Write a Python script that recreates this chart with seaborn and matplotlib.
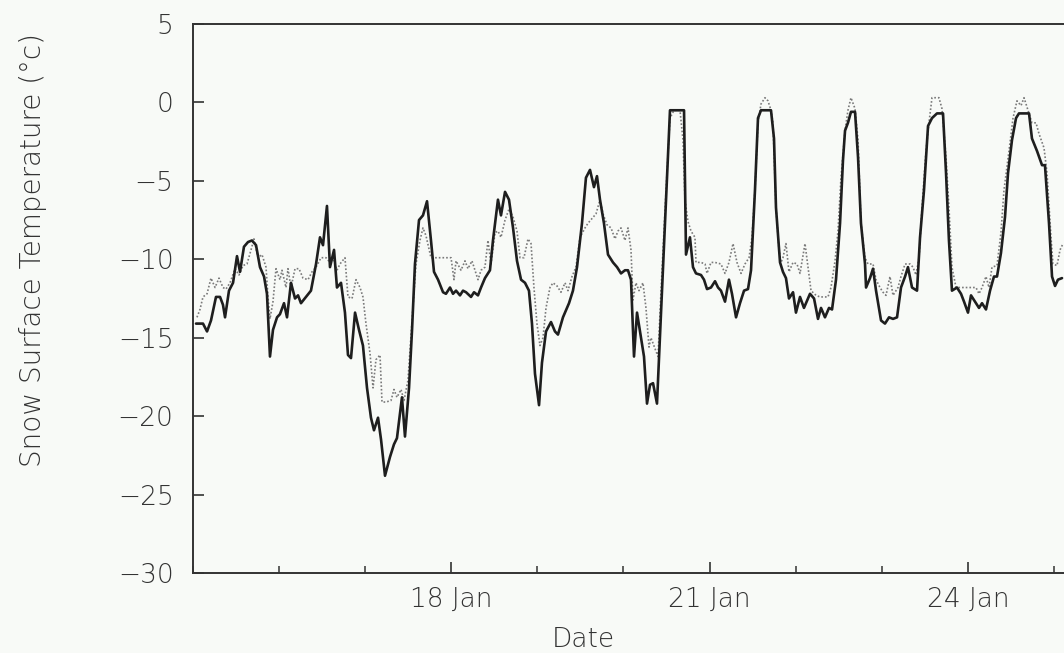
import numpy as np
import pandas as pd
import matplotlib
matplotlib.use("Agg")
import matplotlib.pyplot as plt
import matplotlib.dates as mdates
import seaborn as sns

# ---- data: time in days since 15 Jan 00:00, temperature in degC ----
solid_days = [0.035, 0.116, 0.163, 0.209, 0.267, 0.314, 0.348, 0.372, 0.418, 0.465,
              0.511, 0.546, 0.592, 0.639, 0.685, 0.732, 0.778, 0.825, 0.859, 0.894,
              0.929, 0.976, 1.010, 1.057, 1.092, 1.138, 1.185, 1.220, 1.254, 1.312,
              1.370, 1.429, 1.475, 1.510, 1.556, 1.591, 1.638, 1.672, 1.719, 1.765,
              1.800, 1.835, 1.882, 1.928, 1.974, 2.021, 2.067, 2.102, 2.149, 2.184,
              2.230, 2.288, 2.334, 2.369, 2.427, 2.462, 2.509, 2.544, 2.578, 2.625,
              2.671, 2.718, 2.764, 2.799, 2.846, 2.904, 2.938, 2.985, 3.020, 3.055,
              3.101, 3.136, 3.171, 3.229, 3.264, 3.310, 3.345, 3.391, 3.449, 3.484,
              3.542, 3.577, 3.624, 3.670, 3.717, 3.763, 3.810, 3.856, 3.902, 3.937,
              3.972, 4.019, 4.053, 4.100, 4.158, 4.204, 4.239, 4.297, 4.367, 4.413,
              4.460, 4.518, 4.564, 4.611, 4.657, 4.692, 4.727, 4.773, 4.820, 4.878,
              4.925, 4.971, 5.017, 5.052, 5.087, 5.122, 5.157, 5.203, 5.238, 5.273,
              5.308, 5.343, 5.389, 5.482, 5.540, 5.703, 5.714, 5.726, 5.772, 5.807,
              5.842, 5.900, 5.935, 5.970, 6.016, 6.063, 6.098, 6.132, 6.179, 6.225,
              6.260, 6.307, 6.353, 6.400, 6.446, 6.481, 6.527, 6.562, 6.597, 6.713,
              6.748, 6.771, 6.818, 6.852, 6.887, 6.922, 6.969, 7.003, 7.050, 7.096,
              7.166, 7.213, 7.259, 7.294, 7.340, 7.387, 7.422, 7.468, 7.515, 7.549,
              7.573, 7.607, 7.642, 7.689, 7.724, 7.758, 7.805, 7.817, 7.863, 7.898,
              7.933, 7.991, 8.037, 8.084, 8.130, 8.177, 8.223, 8.270, 8.304, 8.351,
              8.409, 8.444, 8.490, 8.537, 8.583, 8.641, 8.711, 8.746, 8.780, 8.815,
              8.873, 8.920, 8.955, 9.001, 9.036, 9.094, 9.129, 9.164, 9.210, 9.257,
              9.303, 9.338, 9.384, 9.431, 9.466, 9.512, 9.559, 9.593, 9.710, 9.744,
              9.803, 9.861, 9.895, 9.942, 9.977, 10.012, 10.046, 10.093]
solid_temp = [-14.1, -14.1, -14.6, -13.9, -12.4, -12.4, -12.9, -13.7, -12.0, -11.5,
              -9.8, -10.8, -9.2, -8.9, -8.8, -9.1, -10.5, -11.1, -12.2, -16.2,
              -14.5, -13.7, -13.5, -12.8, -13.7, -11.5, -12.5, -12.3, -12.8, -12.4,
              -12.0, -10.3, -8.6, -9.1, -6.6, -10.5, -9.4, -11.8, -11.5, -13.4,
              -16.1, -16.3, -13.4, -14.5, -15.5, -18.2, -20.1, -20.9, -20.1, -21.5,
              -23.8, -22.6, -21.8, -21.4, -18.8, -21.3, -18.2, -14.5, -10.3, -7.5,
              -7.2, -6.3, -8.8, -10.8, -11.3, -12.1, -12.2, -11.8, -12.2, -12.0,
              -12.3, -12.0, -12.1, -12.4, -12.1, -12.3, -11.8, -11.2, -10.7, -8.8,
              -6.2, -7.2, -5.7, -6.2, -8.0, -10.1, -11.3, -11.5, -12.0, -14.1,
              -17.3, -19.3, -16.6, -14.6, -14.0, -14.6, -14.8, -13.7, -12.8, -12.0,
              -10.5, -7.7, -4.8, -4.3, -5.4, -4.7, -6.2, -7.7, -9.7, -10.2,
              -10.5, -10.9, -10.7, -10.7, -11.3, -16.2, -13.4, -15.0, -16.2, -19.2,
              -18.0, -17.9, -19.2, -7.7, -0.5, -0.5, -4.8, -9.7, -8.6, -10.5,
              -10.9, -11.0, -11.3, -11.9, -11.8, -11.4, -11.8, -12.0, -12.7, -11.3,
              -12.2, -13.7, -12.8, -12.0, -11.9, -10.7, -5.6, -1.0, -0.5, -0.5,
              -2.3, -6.7, -10.2, -10.8, -11.2, -12.5, -12.1, -13.4, -12.4, -13.1,
              -12.2, -12.5, -13.8, -13.1, -13.7, -13.1, -13.2, -11.3, -7.7, -3.7,
              -1.8, -1.3, -0.6, -0.6, -3.5, -7.7, -10.3, -11.8, -11.2, -10.6,
              -12.0, -13.9, -14.1, -13.7, -13.8, -13.7, -11.8, -11.1, -10.5, -11.8,
              -12.0, -8.6, -5.6, -1.5, -1.0, -0.7, -0.7, -4.5, -8.8, -12.0,
              -11.8, -12.2, -12.7, -13.4, -12.3, -12.8, -13.1, -12.8, -13.2, -12.0,
              -11.1, -11.1, -9.6, -7.3, -4.5, -2.4, -1.0, -0.7, -0.7, -2.3,
              -3.1, -4.0, -4.0, -7.7, -11.1, -11.7, -11.3, -11.2]

dotted_days = [0.046, 0.081, 0.116, 0.163, 0.209, 0.256, 0.302, 0.348, 0.383, 0.430,
               0.488, 0.534, 0.581, 0.627, 0.674, 0.708, 0.755, 0.801, 0.848, 0.871,
               0.894, 0.929, 0.964, 1.010, 1.034, 1.080, 1.103, 1.138, 1.185, 1.231,
               1.278, 1.336, 1.382, 1.429, 1.487, 1.545, 1.591, 1.626, 1.672, 1.707,
               1.765, 1.800, 1.847, 1.893, 1.940, 1.974, 2.009, 2.056, 2.091, 2.125,
               2.172, 2.195, 2.242, 2.300, 2.334, 2.369, 2.416, 2.451, 2.497, 2.544,
               2.590, 2.636, 2.671, 2.706, 2.764, 2.811, 2.997, 3.031, 3.055, 3.113,
               3.159, 3.194, 3.240, 3.275, 3.310, 3.345, 3.391, 3.426, 3.461, 3.508,
               3.542, 3.577, 3.624, 3.670, 3.717, 3.763, 3.798, 3.844, 3.891, 3.926,
               3.960, 3.995, 4.030, 4.065, 4.100, 4.146, 4.181, 4.228, 4.274, 4.321,
               4.355, 4.402, 4.448, 4.495, 4.553, 4.588, 4.634, 4.681, 4.727, 4.762,
               4.808, 4.855, 4.901, 4.936, 4.971, 5.017, 5.052, 5.087, 5.110, 5.145,
               5.180, 5.226, 5.261, 5.296, 5.319, 5.366, 5.401, 5.436, 5.494, 5.540,
               5.587, 5.656, 5.691, 5.714, 5.749, 5.784, 5.830, 5.842, 5.900, 5.947,
               5.970, 6.016, 6.063, 6.132, 6.179, 6.225, 6.272, 6.318, 6.365, 6.411,
               6.458, 6.492, 6.527, 6.562, 6.597, 6.643, 6.678, 6.713, 6.736, 6.771,
               6.806, 6.829, 6.852, 6.887, 6.922, 6.969, 7.015, 7.050, 7.108, 7.143,
               7.178, 7.236, 7.282, 7.375, 7.410, 7.457, 7.491, 7.526, 7.573, 7.607,
               7.642, 7.689, 7.724, 7.758, 7.805, 7.840, 7.898, 7.933, 7.979, 8.014,
               8.049, 8.095, 8.130, 8.188, 8.223, 8.270, 8.328, 8.362, 8.397, 8.432,
               8.467, 8.513, 8.548, 8.583, 8.664, 8.699, 8.746, 8.780, 8.815, 8.862,
               9.048, 9.094, 9.129, 9.164, 9.210, 9.245, 9.280, 9.338, 9.384, 9.419,
               9.477, 9.524, 9.570, 9.617, 9.652, 9.686, 9.744, 9.791, 9.826, 9.884,
               9.919, 9.965, 9.988, 10.035, 10.070, 10.105]
dotted_temp = [-13.7, -13.2, -12.4, -12.2, -11.2, -11.8, -11.2, -11.8, -11.9, -11.5,
               -10.6, -11.0, -10.4, -10.3, -9.4, -8.7, -9.9, -9.7, -10.5, -12.4,
               -13.8, -12.7, -10.6, -11.3, -10.7, -11.8, -10.6, -11.8, -10.6, -10.6,
               -11.2, -11.3, -10.8, -10.5, -9.9, -9.9, -10.2, -9.9, -10.7, -10.3,
               -9.9, -12.4, -12.5, -11.3, -11.8, -12.4, -14.1, -16.0, -18.2, -16.4,
               -16.1, -19.1, -19.1, -19.0, -18.3, -18.8, -18.3, -19.0, -17.7, -13.9,
               -10.3, -8.8, -8.0, -8.5, -9.9, -9.9, -9.9, -11.3, -10.1, -10.7,
               -10.1, -10.6, -10.1, -10.7, -11.3, -10.7, -10.5, -8.8, -10.3, -8.3,
               -8.2, -8.6, -7.5, -6.8, -7.3, -8.2, -9.9, -9.9, -8.7, -9.0,
               -11.8, -14.1, -15.5, -15.0, -13.1, -11.8, -11.5, -11.7, -12.1, -11.5,
               -12.0, -11.1, -10.5, -8.6, -8.0, -7.7, -7.4, -7.1, -6.2, -7.1,
               -7.8, -8.0, -8.7, -8.2, -8.0, -8.8, -8.0, -9.4, -12.6, -11.5,
               -12.0, -11.5, -13.1, -15.6, -15.0, -15.7, -16.2, -12.0, -5.6, -1.0,
               -0.5, -0.5, -2.4, -6.2, -7.6, -8.2, -8.6, -10.2, -10.2, -10.3,
               -10.9, -10.2, -10.2, -10.3, -10.9, -10.2, -9.0, -10.2, -10.9, -10.3,
               -9.9, -8.6, -5.6, -1.3, -0.1, 0.3, 0.1, -0.5, -1.3, -6.7,
               -9.4, -10.2, -9.9, -9.0, -10.8, -10.2, -10.3, -10.9, -9.0, -10.5,
               -12.0, -12.3, -12.4, -12.4, -11.8, -10.1, -8.2, -4.8, -1.8, -0.5,
               0.3, -0.4, -2.4, -7.7, -9.9, -10.3, -10.3, -11.3, -11.8, -12.1,
               -12.3, -11.1, -12.3, -11.8, -11.1, -10.3, -10.3, -10.5, -11.0, -9.9,
               -6.7, -3.1, -1.3, 0.3, 0.3, -0.4, -3.5, -6.7, -10.5, -11.8,
               -11.8, -11.8, -12.2, -11.8, -11.1, -11.8, -10.5, -10.4, -8.3, -5.6,
               -3.1, -1.0, 0.1, -0.2, 0.3, -0.3, -1.3, -1.3, -2.0, -2.9,
               -4.5, -8.6, -10.3, -10.4, -9.4, -9.0]

y_ticks = [-30, -25, -20, -15, -10, -5, 0, 5]
major_days = [18, 21, 24]
x_label = "Date"
y_label = "Snow Surface Temperature (°c)"

# ---- build frames ----
base = pd.Timestamp("1990-01-15")
solid_df = pd.DataFrame({"time": base + pd.to_timedelta(solid_days, unit="D"),
                         "temp": solid_temp})
dotted_df = pd.DataFrame({"time": base + pd.to_timedelta(dotted_days, unit="D"),
                          "temp": dotted_temp})

sns.set_theme(style="ticks")
plt.rcParams["font.family"] = ["DejaVu Sans"]

bg = "#f8faf7"
ink = "#333333"
fig = plt.figure(figsize=(10.64, 6.53), dpi=100, facecolor=bg)
ax = fig.add_axes([193 / 1064, 1 - 573 / 653, (1064 - 193) / 1064, (573 - 24) / 653])
ax.set_facecolor(bg)

sns.lineplot(data=dotted_df, x="time", y="temp", ax=ax, estimator=None, sort=False,
             color="#7a7a7a", linewidth=1.2, linestyle=(0, (1, 1.2)))
sns.lineplot(data=solid_df, x="time", y="temp", ax=ax, estimator=None, sort=False,
             color="#1e1e1e", linewidth=1.9)

ax.set_xlim(base, base + pd.Timedelta(days=(1064 - 193) / 86.1))
ax.set_ylim(-30, 5)
ax.set_yticks(y_ticks)

ax.xaxis.set_major_locator(mdates.DayLocator(bymonthday=major_days))
ax.xaxis.set_minor_locator(mdates.DayLocator())
ax.xaxis.set_major_formatter(mdates.DateFormatter("%d %b"))

ax.tick_params(axis="both", which="major", direction="in", length=8, width=1.2,
               colors=ink, labelsize=19, labelcolor=ink)
ax.tick_params(axis="x", which="major", pad=10)
ax.tick_params(axis="y", which="major", pad=14)
ax.tick_params(axis="x", which="minor", direction="in", length=5, width=1.1, colors=ink)
for lbl in ax.get_xticklabels() + ax.get_yticklabels():
    lbl.set_fontweight("light")

for side in ["left", "bottom", "top"]:
    ax.spines[side].set_color(ink)
    ax.spines[side].set_linewidth(1.4)
ax.spines["right"].set_visible(False)

ax.set_xlabel(x_label, fontsize=19, color=ink, fontweight="light")
ax.set_ylabel(y_label, fontsize=20, color=ink, fontweight="light")
ax.xaxis.set_label_coords((583 - 193) / 871, -0.098)
ax.yaxis.set_label_coords(-0.168, 0.588)

fig.savefig("out.png", dpi=100, facecolor=bg)
